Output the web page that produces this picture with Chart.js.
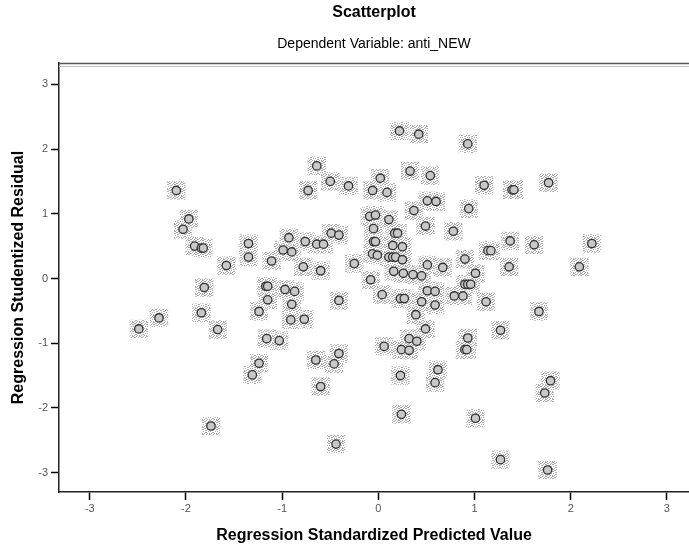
<!DOCTYPE html>
<html lang="en">
<head>
<meta charset="UTF-8">
<title>Scatterplot</title>
<script src="https://cdn.jsdelivr.net/npm/chart.js@4.4.0/dist/chart.umd.min.js"></script>
<style>
  body { margin: 0; background: #fff; }
  #wrap { width: 689px; height: 546px; }
</style>
</head>
<body>
<div id="wrap"><canvas id="scatter" width="689" height="546"></canvas></div>
<script>
// Regression Standardized Predicted Value (x) / Regression Studentized Residual (y)
var predicted = [
  -2.10, -1.97, -2.03, -1.91, -1.84, -1.82, -1.58, -1.35, -1.35, -1.11,
  -1.81, -1.84, -2.28, -1.17, -1.15, -1.15, -1.24, -2.49, -1.67, -1.16,
  -1.03, -1.24, -1.31, -1.74,  0.22,  0.42,  0.93, -0.64,  0.33,  0.54,
  -0.50, -0.31,  0.02, -0.73, -0.06,  0.09,  1.10,  0.51,  0.60,  0.37,
   0.94, -0.09, -0.03,  0.11, -0.05,  0.49,  0.78,  0.17,  0.20, -0.93,
  -0.76, -0.64, -0.57, -0.49, -0.41, -0.99, -0.90, -0.05, -0.03,  0.15,
   0.25, -0.06, -0.01,  0.11,  0.15,  0.18,  0.25,  0.90, -0.78, -0.60,
  -0.25,  0.51,  0.67,  0.16,  0.26,  0.36,  0.45,  1.01, -0.08,  0.90,
   0.93,  0.96, -0.97, -0.87, -0.41,  0.04,  0.23,  0.27,  0.51,  0.59,
   0.79,  0.88, -0.90, -0.91, -0.77,  0.45,  0.59,  1.12,  0.39,  0.49,
   0.32,  0.40,  0.06,  0.24,  0.32,  0.93,  0.90,  0.92, -0.41, -0.46,
  -0.65, -0.60,  0.62,  0.59,  0.23,  0.24,  1.01, -0.44,  1.39,  1.41,
   1.77,  1.37,  1.62,  2.22,  1.14,  1.17,  1.36,  2.09,  1.67,  1.27,
   1.79,  1.73,  1.27,  1.76
];
var residual = [
   1.36,  0.92,  0.76,  0.50,  0.47,  0.47,  0.20,  0.54,  0.33,  0.27,
  -0.14, -0.53, -0.61, -0.12, -0.12, -0.33, -0.51, -0.78, -0.79, -0.93,
  -0.96, -1.31, -1.49, -2.28,  2.28,  2.23,  2.08,  1.74,  1.66,  1.59,
   1.50,  1.43,  1.55,  1.36,  1.36,  1.33,  1.44,  1.20,  1.19,  1.05,
   1.08,  0.96,  0.98,  0.91,  0.77,  0.81,  0.73,  0.70,  0.70,  0.63,
   0.57,  0.53,  0.53,  0.70,  0.67,  0.44,  0.41,  0.57,  0.57,  0.51,
   0.49,  0.38,  0.36,  0.33,  0.33,  0.33,  0.29,  0.30,  0.18,  0.12,
   0.23,  0.21,  0.17,  0.11,  0.08,  0.06,  0.04,  0.08, -0.02, -0.09,
  -0.09, -0.09, -0.17, -0.20, -0.34, -0.25, -0.31, -0.31, -0.19, -0.20,
  -0.27, -0.27, -0.40, -0.64, -0.63, -0.36, -0.41, -0.36, -0.56, -0.78,
  -0.93, -0.97, -1.05, -1.10, -1.11, -0.92, -1.10, -1.10, -1.16, -1.32,
  -1.26, -1.67, -1.41, -1.61, -1.50, -2.10, -2.16, -2.56,  1.37,  1.37,
   1.48,  0.58,  0.52,  0.54,  0.43,  0.43,  0.18,  0.18, -0.51, -0.80,
  -1.58, -1.77, -2.80, -2.96
];
var axisTicks = [-3, -2, -1, 0, 1, 2, 3];

var points = predicted.map(function (x, i) { return { x: x, y: residual[i] }; });

// speckled grey square that SPSS draws round every marker
function haloPattern() {
  var c = document.createElement('canvas');
  c.width = 7; c.height = 7;
  var g = c.getContext('2d');
  var dots = [[0,0],[3,0],[5,1],[1,1],[4,2],[6,2],[2,3],[0,4],[5,4],[3,5],[1,6],[6,6],[4,6],[2,1],[6,0],[3,3],[0,2],[2,5]];
  g.fillStyle = '#aaaaaa';
  dots.forEach(function (d) { g.fillRect(d[0], d[1], 1, 1); });
  return g.createPattern(c, 'repeat');
}

var frameTop = {
  id: 'frameTop',
  afterDraw: function (chart) {
    var ctx = chart.ctx, a = chart.chartArea;
    ctx.save();
    ctx.strokeStyle = '#555';
    ctx.lineWidth = 1.5;
    ctx.beginPath(); ctx.moveTo(a.left, a.top + 0.5); ctx.lineTo(a.right, a.top + 0.5); ctx.stroke();
    ctx.strokeStyle = '#c4c4c4';
    ctx.lineWidth = 1;
    ctx.beginPath(); ctx.moveTo(a.left, a.top + 3.5); ctx.lineTo(a.right, a.top + 3.5); ctx.stroke();
    ctx.restore();
  }
};

Chart.defaults.font.family = '"Liberation Sans", Arial, sans-serif';

new Chart(document.getElementById('scatter'), {
  type: 'scatter',
  data: {
    datasets: [
      {
        data: points,
        order: 0,
        pointStyle: 'circle',
        pointRadius: 4.2,
        pointHoverRadius: 4.2,
        borderWidth: 1.3,
        borderColor: '#333',
        backgroundColor: '#c8c8c8'
      },
      {
        data: points,
        order: 1,
        pointStyle: 'rect',
        pointRadius: 13,
        pointHoverRadius: 13,
        borderWidth: 0,
        backgroundColor: haloPattern()
      }
    ]
  },
  options: {
    responsive: false,
    animation: false,
    events: [],
    layout: { padding: 0, autoPadding: false },
    plugins: {
      legend: { display: false },
      tooltip: { enabled: false },
      title: {
        display: true,
        fullSize: false,
        text: 'Scatterplot',
        color: '#000',
        font: { size: 16, weight: 'bold' },
        padding: { top: 3, bottom: 0 }
      },
      subtitle: {
        display: true,
        fullSize: false,
        text: 'Dependent Variable: anti_NEW',
        color: '#000',
        font: { size: 14, weight: 'normal' },
        padding: { top: 14, bottom: 10 }
      }
    },
    scales: {
      x: {
        type: 'linear',
        min: -3.32,
        max: 3.23,
        afterFit: function (s) { s.height = 54; s.paddingLeft = 0; s.paddingRight = 0; },
        afterBuildTicks: function (s) { s.ticks = axisTicks.map(function (v) { return { value: v }; }); },
        ticks: { color: '#555', font: { size: 11 }, padding: 2, includeBounds: false },
        grid: { drawOnChartArea: false, drawTicks: true, tickLength: 8, color: '#000', tickWidth: 1.5 },
        border: { display: true, color: '#222', width: 1.5 },
        title: {
          display: true,
          text: 'Regression Standardized Predicted Value',
          color: '#000',
          font: { size: 16, weight: 'bold' },
          padding: { top: 0, bottom: 1 }
        }
      },
      y: {
        type: 'linear',
        min: -3.30,
        max: 3.33,
        afterFit: function (s) { s.width = 59; s.paddingTop = 0; s.paddingBottom = 0; },
        afterBuildTicks: function (s) { s.ticks = axisTicks.map(function (v) { return { value: v }; }); },
        ticks: { color: '#555', font: { size: 11 }, padding: 3, includeBounds: false },
        grid: { drawOnChartArea: false, drawTicks: true, tickLength: 8, color: '#000', tickWidth: 1.5 },
        border: { display: true, color: '#222', width: 1.5 },
        title: {
          display: true,
          text: 'Regression Studentized Residual',
          color: '#000',
          font: { size: 16, weight: 'bold' },
          padding: { top: 9, bottom: 0 }
        }
      }
    }
  },
  plugins: [frameTop]
});
</script>
</body>
</html>
